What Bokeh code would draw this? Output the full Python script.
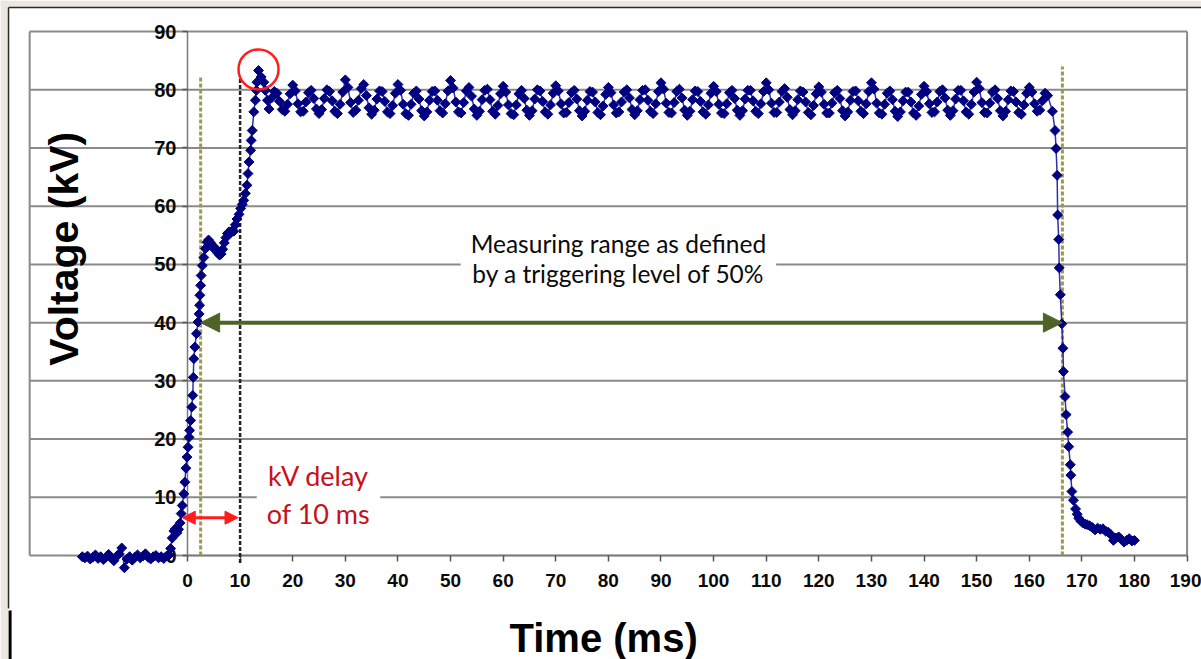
import numpy as np
from bokeh.plotting import figure
from bokeh.models import FixedTicker, Label, Arrow, NormalHead, BoxAnnotation
from bokeh.embed import file_html
from bokeh.resources import INLINE

# ---------------- data ----------------
base_start_ms = -20.0
base_step_ms = 0.5
base_kv = [-0.2, -0.4, -0.1, -0.6, -0.3, 0.1, -0.5, -0.2, -0.7, -0.3,
           0.2, -0.4, -0.9, -0.2, 0.3, 1.3, -2.1, -0.6, -0.2, -0.8,
           -0.3, 0.1, -0.4, -0.1, 0.3, -0.3, -0.6, -0.2, 0.0, -0.4,
           -0.2, -0.5, -0.1, 0.1]

rise_ms = [-3.2, -2.9, -2.6, -2.3, -2.0, -1.7, -1.4, -1.2, -1.0, -0.7,
           -0.5, -0.3, -0.1, 0.1, 0.3, 0.4, 0.6, 0.8, 1.0, 1.1,
           1.2, 1.4, 1.7, 2.0, 2.2, 2.3, 2.35, 2.5, 2.6, 2.8,
           3.1, 3.4, 3.7, 4.0, 4.3, 4.6, 4.9, 5.2, 5.5, 5.8,
           6.1, 6.4, 6.7, 7.0, 7.3, 7.6, 7.9, 8.2, 8.5, 8.8,
           9.1, 9.4, 9.8, 10.1, 10.4, 10.7, 11.0, 11.3, 11.5, 11.7,
           12.0, 12.1, 12.3, 12.6, 12.9, 13.1, 13.2, 13.5, 14.0, 14.5,
           14.8, 15.2, 15.5]
rise_kv = [1.2, 3.0, 4.2, 4.6, 3.9, 4.5, 5.6, 7.2, 8.6, 10.6,
           12.6, 15.0, 16.9, 18.6, 20.3, 21.5, 23.2, 25.5, 27.5, 30.6,
           33.8, 35.8, 38.1, 40.1, 41.5, 43.0, 44.7, 46.4, 48.1, 49.8,
           51.2, 52.7, 53.8, 54.2, 53.8, 53.2, 52.8, 52.9, 52.4, 51.9,
           51.6, 51.8, 52.6, 53.7, 54.6, 55.3, 55.6, 55.4, 55.8, 55.7,
           56.8, 57.8, 58.6, 59.6, 60.3, 61.0, 62.2, 63.6, 65.6, 67.6,
           69.6, 71.3, 73.0, 76.2, 78.2, 79.9, 81.3, 83.3, 82.2, 81.3,
           79.9, 78.2, 76.7]

plateau_start_ms = 16.0
plateau_step_ms = 0.5
plateau_kv = [
    78.6, 79.7, 79.4, 78.0, 76.6, 76.3, 77.5, 79.3,
    80.8, 79.8, 77.6, 76.2, 76.3, 77.9, 79.5, 79.9, 78.5, 76.7, 75.9, 76.6, 78.5, 80.0, 79.7, 78.1, 76.3, 75.9, 77.5, 79.6,
    81.7, 80.4, 77.8, 76.1, 76.5, 78.2, 80.2, 80.9, 79.0, 76.9, 75.8, 76.5, 78.4, 79.8, 79.7, 78.0, 76.2, 75.9, 77.3, 79.4,
    80.9, 79.9, 77.5, 75.9, 75.6, 77.5, 79.4, 79.8, 78.4, 76.4, 75.5, 76.2, 78.2, 79.7, 79.8, 78.2, 76.4, 76.0, 77.6, 79.8,
    81.6, 80.3, 77.9, 76.2, 76.0, 77.8, 79.8, 80.4, 78.9, 76.7, 75.6, 76.3, 78.3, 79.9, 80.1, 78.3, 76.3, 75.8, 77.3, 79.3,
    80.6, 79.6, 77.4, 75.9, 75.7, 77.4, 79.3, 79.9, 78.5, 76.5, 75.6, 76.4, 78.4, 80.0, 79.8, 78.0, 76.2, 75.8, 77.4, 79.4,
    80.7, 79.8, 77.6, 76.0, 76.1, 77.8, 79.5, 79.9, 78.4, 76.4, 75.5, 76.3, 78.2, 79.7, 79.6, 77.9, 76.1, 75.7, 77.2, 79.2,
    80.4, 79.5, 77.4, 76.0, 76.2, 77.9, 79.6, 80.0, 78.6, 76.6, 75.7, 76.4, 78.3, 79.9, 80.0, 78.2, 76.3, 75.9, 77.6, 79.7,
    81.2, 80.1, 77.7, 76.1, 76.0, 77.8, 79.7, 80.1, 78.6, 76.5, 75.6, 76.3, 78.3, 79.8, 79.7, 78.0, 76.2, 75.8, 77.4, 79.4,
    80.6, 79.7, 77.5, 76.0, 75.9, 77.6, 79.5, 79.9, 78.5, 76.5, 75.6, 76.4, 78.4, 79.9, 79.9, 78.1, 76.3, 75.9, 77.6, 79.7,
    81.2, 80.0, 77.7, 76.1, 76.1, 77.9, 79.7, 80.2, 78.7, 76.6, 75.7, 76.4, 78.3, 79.8, 79.6, 77.9, 76.1, 75.7, 77.3, 79.3,
    80.5, 79.6, 77.5, 76.0, 76.0, 77.7, 79.5, 79.9, 78.5, 76.4, 75.5, 76.2, 78.2, 79.7, 79.8, 78.1, 76.3, 75.9, 77.6, 79.7,
    81.2, 80.1, 77.7, 76.0, 75.8, 77.5, 79.4, 79.8, 78.3, 76.3, 75.4, 76.2, 78.1, 79.6, 79.6, 77.9, 76.0, 75.6, 77.2, 79.2,
    80.6, 79.7, 77.6, 76.1, 76.2, 77.9, 79.7, 80.0, 78.6, 76.5, 75.6, 76.4, 78.4, 79.9, 79.9, 78.1, 76.2, 75.8, 77.5, 79.6,
    81.3, 80.2, 77.8, 76.1, 76.0, 77.7, 79.6, 80.0, 78.5, 76.4, 75.5, 76.3, 78.3, 79.8, 79.7, 77.9, 76.1, 75.8, 77.4, 79.4,
    80.4, 79.6, 77.6, 76.3, 76.5, 78.1, 79.4, 79.0,
]

fall_ms = [164.4, 164.9, 165.1, 165.3, 165.4, 165.6, 165.7, 165.9, 166.2, 166.4,
           166.5, 166.8, 167.0, 167.3, 167.5, 167.8, 167.9, 168.1, 168.4, 168.8,
           169.1, 169.4, 169.8, 170.2, 170.6, 171.0, 171.5, 172.0, 172.5, 173.0,
           173.5, 174.0, 174.5, 175.0, 175.5, 176.0, 176.5, 177.0, 177.5, 178.0,
           178.5, 179.0, 179.5, 180.0]
fall_kv = [76.3, 73.0, 69.9, 65.3, 58.5, 54.3, 49.4, 44.8, 39.8, 35.6,
           31.6, 27.3, 24.2, 21.2, 18.7, 15.6, 13.8, 11.0, 9.5, 8.0,
           7.1, 6.4, 5.9, 5.6, 5.4, 5.3, 5.1, 4.8, 4.4, 4.7,
           4.5, 4.6, 4.2, 4.0, 3.6, 2.6, 3.0, 3.2, 2.8, 2.3,
           2.6, 2.9, 2.5, 2.6]

x_ticks = list(range(0, 200, 10))
y_ticks = list(range(0, 100, 10))

# annotation values
trigger_level_kv = 40
trigger_on_ms = 2.5
trigger_off_ms = 166.3
trigger_on_top_kv = 82.3
trigger_off_top_kv = 84.0
delay_end_ms = 10
delay_top_kv = 82.1
delay_arrow_from_ms = -1.0
delay_arrow_kv = 6.5
frame_left_ms = -30
frame_right_ms = 190
frame_top_kv = 90

measure_text = "Measuring range as defined\nby a triggering level of 50%"
measure_text_pos = (81.9, 51.0)
delay_text = "kV delay\nof 10 ms"
delay_text_pos = (24.9, 10.4)
x_title = "Time (ms)"
y_title = "Voltage (kV)"
x_title_pos = (79.1, -14.1)
y_title_pos = (-23.5, 52.7)

# page surround (beige margin and dark panel edge), in data units
view_x = (-35.545, 192.74)
view_y = (-17.86, 95.33)
margin_right_ms = -34.12
margin_bottom_kv = 94.21
edge_x_ms = -34.02
edge_y_kv = 94.13
edge_break_kv = -9.1

# ---------------- assemble series ----------------
base_ms = base_start_ms + base_step_ms * np.arange(len(base_kv))
plateau_ms = plateau_start_ms + plateau_step_ms * np.arange(len(plateau_kv))
t = np.concatenate([base_ms, rise_ms, plateau_ms, fall_ms])
v = np.concatenate([base_kv, rise_kv, plateau_kv, fall_kv])

GRID = "#8a8a8a"
NAVY = "#000080"
OLIVE = "#4f6228"
DASH_GREEN = "#9a9a48"
RED = "#ff1c1c"
BEIGE = "#ebe8e1"

p = figure(frame_width=1201, frame_height=659,
           x_range=view_x, y_range=view_y,
           min_border_left=0, min_border_right=0,
           min_border_top=0, min_border_bottom=0,
           toolbar_location=None, output_backend="svg")
p.outline_line_color = None
p.background_fill_color = "white"
p.border_fill_color = "white"
p.grid.visible = False

# axes at fixed locations (x=0, y=0)
p.xaxis.fixed_location = 0
p.yaxis.fixed_location = 0
p.xaxis.ticker = FixedTicker(ticks=x_ticks)
p.yaxis.ticker = FixedTicker(ticks=y_ticks)
p.xaxis.bounds = (0, 190)
p.yaxis.bounds = (0, 90)
for ax in (p.xaxis, p.yaxis):
    ax.axis_line_color = "#7a7a7a"
    ax.axis_line_width = 1.5
    ax.major_tick_line_color = "#555555"
    ax.major_tick_line_width = 1.5
    ax.minor_tick_line_color = None
    ax.major_tick_in = 0
    ax.major_label_text_font = "Liberation Sans"
    ax.major_label_text_font_style = "bold"
    ax.major_label_text_color = "#0a0a0a"
    ax.level = "underlay"
p.xaxis.major_label_text_font_size = "19px"
p.yaxis.major_label_text_font_size = "20px"
p.xaxis.major_tick_out = 6
p.xaxis.major_label_standoff = 12
p.yaxis.major_tick_out = 5
p.yaxis.major_label_standoff = 6

# horizontal grid lines and plot border lines
p.segment(x0=[frame_left_ms] * len(y_ticks), y0=y_ticks,
          x1=[frame_right_ms] * len(y_ticks), y1=y_ticks,
          line_color=GRID, line_width=2, level="underlay")
p.segment(x0=[frame_left_ms, frame_right_ms], y0=[0, 0],
          x1=[frame_left_ms, frame_right_ms], y1=[frame_top_kv, frame_top_kv],
          line_color=GRID, line_width=2, level="underlay")

# page surround
p.add_layout(BoxAnnotation(right=margin_right_ms, fill_color=BEIGE, fill_alpha=1,
                           line_color=None, level="underlay"))
p.add_layout(BoxAnnotation(bottom=margin_bottom_kv, fill_color=BEIGE, fill_alpha=1,
                           line_color=None, level="underlay"))
p.segment(x0=[edge_x_ms, edge_x_ms], y0=[edge_y_kv, edge_y_kv],
          x1=[view_x[1], edge_x_ms], y1=[edge_y_kv, edge_break_kv],
          line_color="#2a2a2a", line_width=1.5)
p.segment(x0=[edge_x_ms + 0.3], y0=[edge_break_kv - 0.35], x1=[edge_x_ms + 0.3], y1=[view_y[0]],
          line_color="black", line_width=3)

# trigger dashed lines
p.segment(x0=[trigger_on_ms, trigger_off_ms], y0=[0, 0],
          x1=[trigger_on_ms, trigger_off_ms], y1=[trigger_on_top_kv, trigger_off_top_kv],
          line_color=DASH_GREEN, line_width=3, line_dash="4 2")
p.segment(x0=[delay_end_ms], y0=[-1.3], x1=[delay_end_ms], y1=[delay_top_kv],
          line_color="#222222", line_width=2.5, line_dash="4 2")

# data
p.line(t, v, line_color="#3030a8", line_width=1.5)
p.scatter(t, v, marker="square", angle=np.pi / 4, size=7,
          fill_color=NAVY, line_color=NAVY, line_width=1)

# peak circle
i_max = int(np.argmax(v))
p.scatter([t[i_max]], [v[i_max] + 0.2], marker="circle", size=40,
          fill_color=None, line_color=RED, line_width=2.5)

# arrows
p.add_layout(Arrow(start=NormalHead(size=19, fill_color=OLIVE, line_color=OLIVE),
                   end=NormalHead(size=19, fill_color=OLIVE, line_color=OLIVE),
                   x_start=trigger_on_ms, y_start=trigger_level_kv,
                   x_end=trigger_off_ms, y_end=trigger_level_kv,
                   line_color=OLIVE, line_width=4))
p.add_layout(Arrow(start=NormalHead(size=13, fill_color=RED, line_color=RED),
                   end=NormalHead(size=13, fill_color=RED, line_color=RED),
                   x_start=delay_arrow_from_ms, y_start=delay_arrow_kv,
                   x_end=delay_end_ms - 0.4, y_end=delay_arrow_kv,
                   line_color=RED, line_width=3))

# texts
p.add_layout(Label(x=measure_text_pos[0], y=measure_text_pos[1], text=measure_text,
                   text_align="center", text_baseline="middle",
                   text_font="Lato", text_font_size="24.5px", text_color="#0a0a0a",
                   text_line_height=1.05,
                   background_fill_color="white", padding=10))
p.add_layout(Label(x=delay_text_pos[0], y=delay_text_pos[1], text=delay_text,
                   text_align="center", text_baseline="middle",
                   text_font="Lato", text_font_size="27px", text_color="#c8101a",
                   text_line_height=1.15,
                   background_fill_color="white", padding=10))
p.add_layout(Label(x=x_title_pos[0], y=x_title_pos[1], text=x_title,
                   text_align="center", text_baseline="middle",
                   text_font="Liberation Sans", text_font_style="bold",
                   text_font_size="40px", text_color="black"))
p.add_layout(Label(x=y_title_pos[0], y=y_title_pos[1], text=y_title, angle=np.pi / 2,
                   text_align="center", text_baseline="middle",
                   text_font="Liberation Sans", text_font_style="bold",
                   text_font_size="41px", text_color="black"))

open("out.html", "w").write(file_html(p, INLINE))
